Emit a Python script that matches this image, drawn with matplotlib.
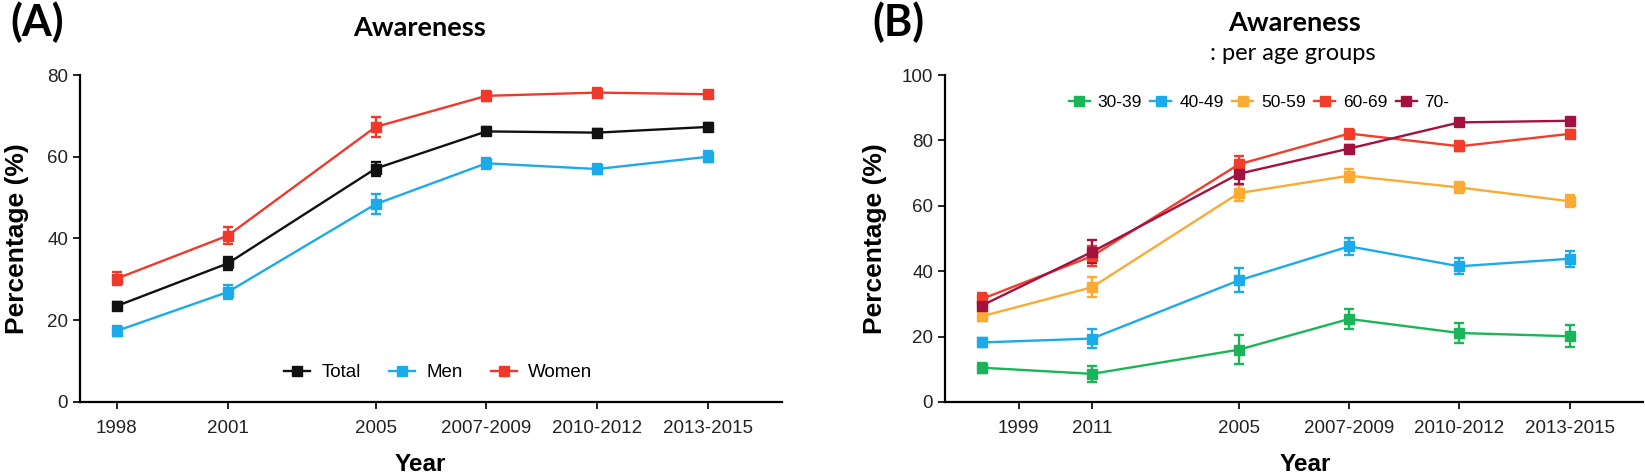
import matplotlib
matplotlib.use('Agg')
import matplotlib.pyplot as plt

# x positions (year) and tick labels
years = [1998, 2001, 2005, 2008, 2011, 2014]
ticks_a = [1998, 2001, 2005, 2008, 2011, 2014]
labels_a = ['1998', '2001', '2005', '2007-2009', '2010-2012', '2013-2015']
ticks_b = [1999, 2001, 2005, 2008, 2011, 2014]
labels_b = ['1999', '2011', '2005', '2007-2009', '2010-2012', '2013-2015']

# Panel A: by sex
total = [23.5, 33.9, 57.1, 66.2, 65.9, 67.3]
total_err = [1.0, 1.5, 1.7, 1.0, 1.0, 1.0]
men = [17.4, 26.9, 48.4, 58.4, 57.0, 60.0]
men_err = [1.2, 1.8, 2.5, 1.3, 1.3, 1.3]
women = [30.2, 40.7, 67.3, 74.9, 75.7, 75.3]
women_err = [1.5, 2.0, 2.5, 1.2, 1.0, 0.8]

# Panel B: by age group
age_30 = [10.5, 8.6, 16.0, 25.4, 21.1, 20.1]
age_30_err = [1.5, 2.5, 4.5, 3.0, 3.0, 3.3]
age_40 = [18.2, 19.4, 37.2, 47.6, 41.5, 43.8]
age_40_err = [1.5, 3.0, 3.7, 2.5, 2.5, 2.5]
age_50 = [26.2, 35.1, 63.9, 69.2, 65.6, 61.4]
age_50_err = [1.3, 3.0, 2.5, 2.0, 1.8, 1.8]
age_60 = [31.5, 44.6, 72.7, 82.1, 78.2, 82.0]
age_60_err = [1.8, 3.0, 2.5, 1.5, 1.5, 1.2]
age_70 = [29.5, 45.9, 69.8, 77.5, 85.5, 86.0]
age_70_err = [3.0, 3.5, 3.0, 1.0, 1.0, 1.0]

plt.rcParams['font.family'] = ['Liberation Sans', 'DejaVu Sans']
title_font = ['Lato', 'DejaVu Sans']

fig = plt.figure(figsize=(16.45, 4.75), dpi=100)
ax_a = fig.add_axes([0.0486, 0.1537, 0.4268, 0.6884])
ax_b = fig.add_axes([0.5745, 0.1537, 0.4243, 0.6884])


def draw_series(ax, y, err, color, label):
    ax.errorbar(years, y, yerr=err, fmt='none', ecolor=color, elinewidth=1.7,
                capsize=3.5, capthick=1.7, zorder=2)
    ax.plot(years, y, '-s', color=color, lw=1.7, markersize=7, label=label, zorder=3)


def style_axes(ax, ymax, ticks, labels, xlab_x, ylab_x):
    ax.set_xlim(1997, 2016)
    ax.set_ylim(0, ymax)
    ax.set_xticks(ticks)
    ax.set_xticklabels(labels)
    ax.set_yticks(range(0, ymax + 1, 20))
    for side in ['top', 'right']:
        ax.spines[side].set_visible(False)
    for side in ['left', 'bottom']:
        ax.spines[side].set_linewidth(1.6)
    ax.tick_params(axis='both', width=1.4, length=5, labelsize=13.5, colors='#222222')
    ax.tick_params(axis='x', pad=8)
    ax.set_xlabel('Year', fontsize=17.5, fontweight='bold', va='center')
    ax.xaxis.set_label_coords(xlab_x, -0.19)
    ax.set_ylabel('Percentage (%)', fontsize=19, fontweight='bold', va='center')
    ax.yaxis.set_label_coords(ylab_x, 0.5)


draw_series(ax_a, total, total_err, '#111111', 'Total')
draw_series(ax_a, men, men_err, '#1CABEA', 'Men')
draw_series(ax_a, women, women_err, '#F0392B', 'Women')
style_axes(ax_a, 80, ticks_a, labels_a, 0.485, -0.09)
ax_a.legend(loc='center', bbox_to_anchor=(0.51, 0.089), ncol=3, frameon=False,
            fontsize=13.5, handlelength=1.4, columnspacing=1.5, handletextpad=0.6)

draw_series(ax_b, age_30, age_30_err, '#19B558', '30-39')
draw_series(ax_b, age_40, age_40_err, '#1CABEA', '40-49')
draw_series(ax_b, age_50, age_50_err, '#FBAA33', '50-59')
draw_series(ax_b, age_60, age_60_err, '#F23D2B', '60-69')
draw_series(ax_b, age_70, age_70_err, '#A3123F', '70-')
style_axes(ax_b, 100, ticks_b, labels_b, 0.516, -0.1)
ax_b.legend(loc='center', bbox_to_anchor=(0.45, 0.917), ncol=5, frameon=False,
            fontsize=12.5, handlelength=1.2, columnspacing=0.5, handletextpad=0.45)

# panel letters and titles
fig.text(10 / 1645, 1 - 22 / 475, '(A)', fontsize=31, fontweight='bold',
         family=title_font, va='center', ha='left')
fig.text(872 / 1645, 1 - 22 / 475, '(B)', fontsize=31, fontweight='bold',
         family=title_font, va='center', ha='left')
fig.text(420 / 1645, 1 - 28 / 475, 'Awareness', fontsize=19.5, fontweight='bold',
         family=title_font, va='center', ha='center')
fig.text(1295 / 1645, 1 - 23 / 475, 'Awareness', fontsize=19.5, fontweight='bold',
         family=title_font, va='center', ha='center')
fig.text(1293 / 1645, 1 - 53 / 475, ': per age groups', fontsize=17,
         family=title_font, va='center', ha='center')

fig.savefig('out.png', dpi=100)
